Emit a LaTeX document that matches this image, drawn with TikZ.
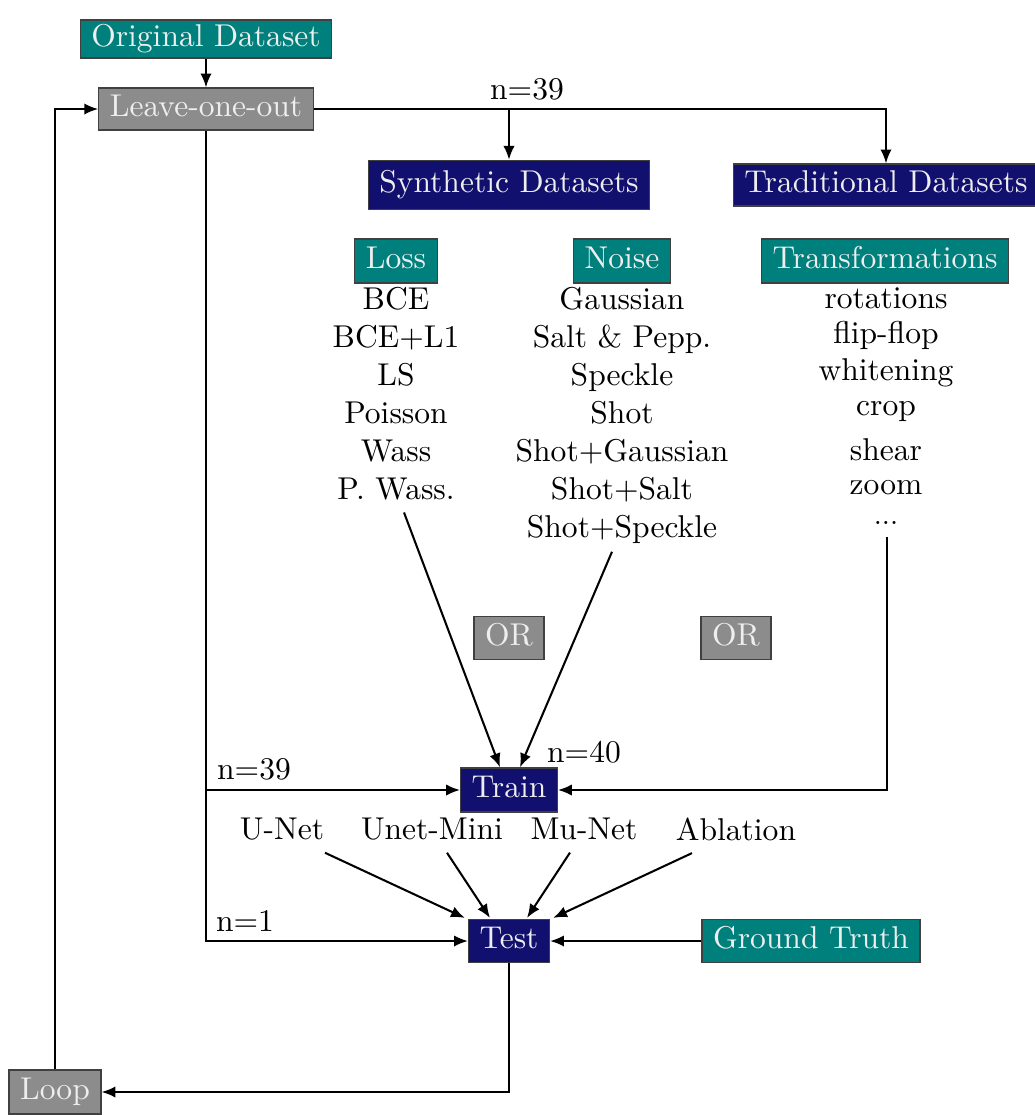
\documentclass[tikz,border=0pt]{standalone}
\usetikzlibrary{arrows.meta,calc}
\definecolor{navyb}{RGB}{18,16,110}
\definecolor{tealb}{RGB}{0,128,125}
\definecolor{grayb}{RGB}{140,140,140}
\definecolor{boxtext}{RGB}{238,238,238}
\begin{document}
\begin{tikzpicture}[x=0.317pt,y=-0.317pt,
  box/.style={draw=black!75, line width=0.4pt, text=boxtext, inner xsep=3.5pt, inner ysep=0pt, text height=7pt, text depth=2pt, minimum height=13.3pt},
  tealbox/.style={box, fill=tealb},
  navybox/.style={box, fill=navyb},
  graybox/.style={box, fill=grayb},
  conn/.style={line width=0.65pt},
  arr/.style={conn, -{Latex[length=4.4pt,width=3.6pt]}},
  lbl/.style={inner sep=0pt, align=center},
  listtxt/.style={inner sep=0pt, align=center, anchor=north}]
\useasboundingbox (0,0) rectangle (1035,1115);

% boxes
\node[tealbox, minimum height=12pt] (orig) at (206,39) {Original Dataset};
\node[graybox] (loo) at (206,109) {Leave-one-out};
\node[navybox, minimum height=15.6pt] (syn) at (509,185) {Synthetic Datasets};
\node[navybox] (trad) at (886,185) {Traditional Datasets};
\node[tealbox, minimum height=14pt] (loss) at (396,261) {Loss};
\node[tealbox, minimum height=14pt] (noise) at (622,261) {Noise};
\node[tealbox, minimum height=14pt] (transf) at (885,261) {Transformations};

% lists
\node[listtxt] (losslist) at (396,287) {BCE\\BCE+L1\\LS\\Poisson\\Wass\\P. Wass.};
\node[listtxt] (noiselist) at (622,287) {Gaussian\\Salt \& Pepp.\\Speckle\\Shot\\Shot+Gaussian\\Shot+Salt\\Shot+Speckle};
\node[listtxt] (translist) at (886,287) {rotations\\[-1pt]flip-flop\\whitening\\[-1pt]crop\\[2.3pt]shear\\[-1.3pt]zoom\\[-2.6pt]{\small ...}};

\node[graybox, minimum height=13.6pt] (or1) at (509,638) {OR};
\node[graybox, minimum height=13.6pt] (or2) at (736,638) {OR};

\node[navybox, minimum height=14pt] (train) at (509,790) {Train};
\node[navybox, minimum height=13.6pt] (test) at (509,941) {Test};
\node[tealbox, minimum height=13.6pt] (gt) at (811,941) {Ground Truth};
\node[graybox, minimum height=14pt] (loop) at (55,1092) {Loop};

% models
\node[lbl] (unet) at (282,829) {U-Net};
\node[lbl] (unetmini) at (432,829) {Unet-Mini};
\node[lbl] (munet) at (584,829) {Mu-Net};
\node[lbl] (ablation) at (736,829) {Ablation};

% labels
\node[lbl] (n39a) at (527,89) {n=39};
\node[lbl] (n39b) at (254,769) {n=39};
\node[lbl] (n1) at (245,921) {n=1};
\node[lbl] (n40) at (584,752) {n=40};

% connectors
\draw[arr] (orig) -- (loo);
\draw[arr] (loo.east) -| (trad.north);
\draw[arr] (syn.north |- loo.east) -- (syn.north);
\draw[arr] (loo.south) |- (test.west);
\draw[arr] (loo.south |- train.west) -- (train.west);
\draw[arr] ($(losslist.south)+(8,12)$) -- ($(train.north)+(-9,0)$);
\draw[arr] ($(noiselist.south)+(-10,8)$) -- ($(train.north)+(11,0)$);
\draw[arr] ($(translist.south)+(1,12)$) |- (train.east);
\draw[arr] ($(unet.south)+(43,12)$) -- ($(test.north west)+(-3,-1)$);
\draw[arr] ($(unetmini.south)+(15,12)$) -- ($(test.north)+(-19,-1)$);
\draw[arr] ($(munet.south)+(-14,12)$) -- ($(test.north)+(18,-1)$);
\draw[arr] ($(ablation.south)+(-44,12)$) -- ($(test.north east)+(3,-1)$);
\draw[arr] (gt) -- (test);
\draw[arr] (test.south) |- (loop.east);
\draw[arr] (loop.north) |- (loo.west);
\end{tikzpicture}
\end{document}
